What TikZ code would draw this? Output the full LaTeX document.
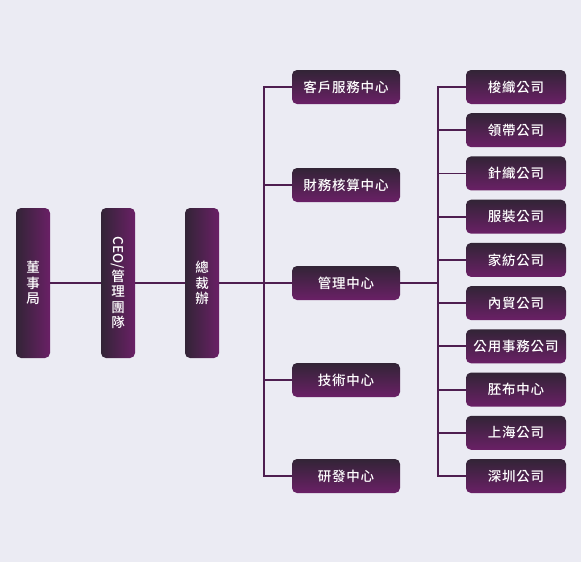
\documentclass[tikz,border=0pt]{standalone}
\usepackage{fontspec}
\usepackage{graphicx}
\usepackage{tikz}
\newfontfamily\cjk[LetterSpace=6, UprightFont=* Medium]{Noto Sans CJK TC}
\newfontfamily\cjktight[UprightFont=* Medium]{Noto Sans CJK TC}
\definecolor{bgcol}{RGB}{235,235,243}
\definecolor{boxtop}{RGB}{50,36,54}
\definecolor{boxbot}{RGB}{106,32,102}
\definecolor{linecol}{RGB}{78,30,80}

\begin{document}
\begin{tikzpicture}[x=1pt, y=-1pt,
		boxtext/.style={text=white, inner sep=0pt, align=center, font=\cjk\fontsize{13.5}{15.5}\selectfont},
		vnode/.style={boxtext, rounded corners=5pt, left color=boxtop, right color=boxbot, minimum width=34pt, minimum height=150pt},
		hnode/.style={boxtext, rounded corners=5pt, top color=boxtop, bottom color=boxbot, minimum height=34pt},
		midnode/.style={hnode, minimum width=108pt},
		subnode/.style={hnode, minimum width=100pt},
		link/.style={draw=linecol, line width=1.8pt}
	]
	\fill[bgcol] (0,0) rectangle (581,562);
	\useasboundingbox (0,0) rectangle (581,562);

	% left column
	\node[vnode] (dsj) at (33,283) {董\\事\\局};
	\node[vnode] (ceo) at (118,283) {\rotatebox{-90}{\cjktight CEO/}\\管\\理\\團\\隊};
	\node[vnode] (zcb) at (202,283) {總\\裁\\辦};

	% centres
	\node[midnode] (khfw) at (346,87) {客戶服務中心};
	\node[midnode] (cwhs) at (346,185) {財務核算中心};
	\node[midnode] (glzx) at (346,283) {管理中心};
	\node[midnode] (jszx) at (346,380) {技術中心};
	\node[midnode] (yfzx) at (346,476) {研發中心};

	% companies
	\node[subnode] (szgs) at (516,87) {梭織公司};
	\node[subnode] (ldgs) at (516,130.2) {領帶公司};
	\node[subnode] (zzgs) at (516,173.4) {針織公司};
	\node[subnode] (fzgs) at (516,216.7) {服裝公司};
	\node[subnode] (jfgs) at (516,259.9) {家紡公司};
	\node[subnode] (nmgs) at (516,303.1) {內貿公司};
	\node[subnode] (gysw) at (516,346.3) {公用事務公司};
	\node[subnode] (pbzx) at (516,389.6) {胚布中心};
	\node[subnode] (shgs) at (516,432.8) {上海公司};
	\node[subnode] (szzgs) at (516,476) {深圳公司};

	\coordinate (t1) at (264,283);
	\coordinate (t2) at (438,283);

	\draw[link] (dsj) -- (ceo);
	\draw[link] (ceo) -- (zcb);
	\draw[link] (zcb) -- (t1);
	\foreach \n in {khfw,cwhs,glzx,jszx,yfzx}
		\draw[link] (t1) |- (\n.west);
	\draw[link] (glzx) -- (t2);
	\foreach \n in {szgs,ldgs,zzgs,fzgs,jfgs,nmgs,gysw,pbzx,shgs,szzgs}
		\draw[link] (t2) |- (\n.west);
\end{tikzpicture}
\end{document}
